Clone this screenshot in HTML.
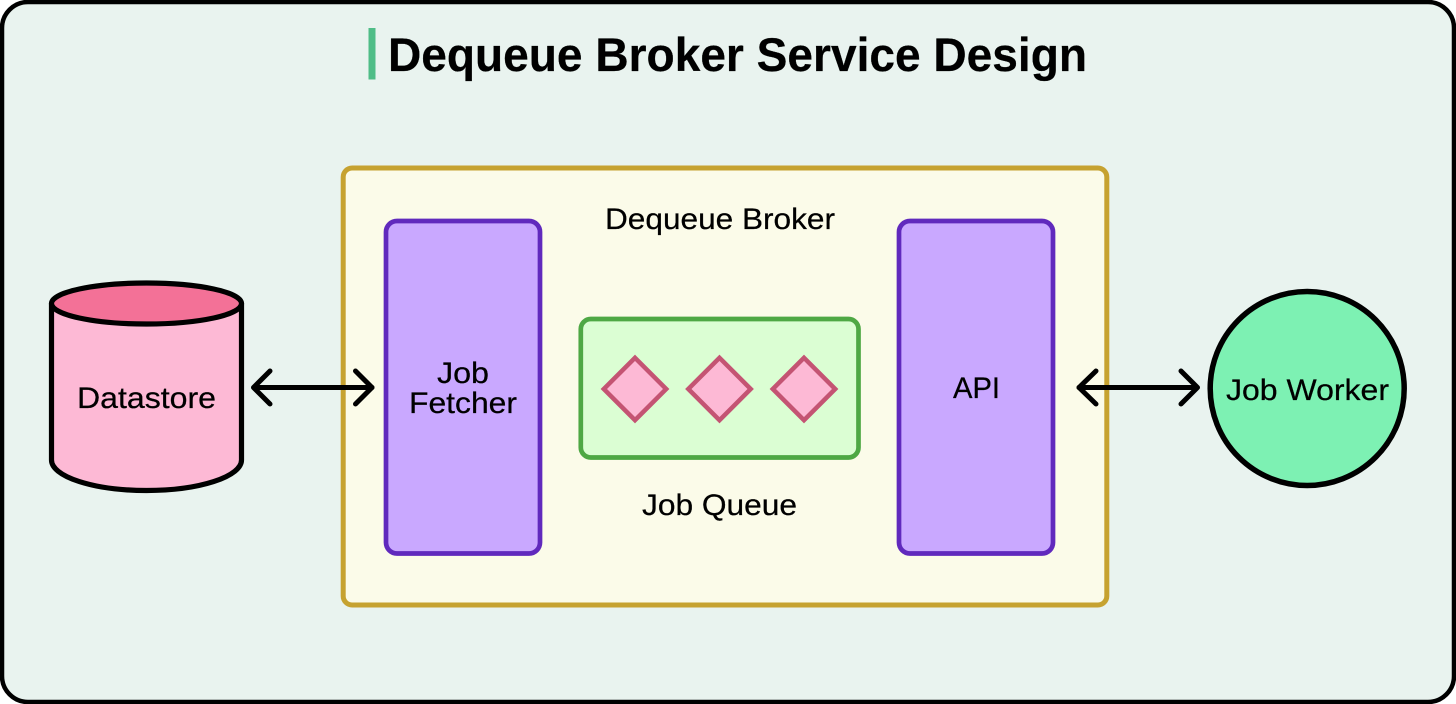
<!DOCTYPE html>
<html>
<head>
<meta charset="utf-8">
<style>
html,body{margin:0;padding:0;background:#fff;width:1456px;height:704px;overflow:hidden}
svg{display:block}
text{font-family:"Liberation Sans",sans-serif;fill:#000;font-size:30px;stroke:#000;stroke-width:.25px}
</style>
</head>
<body>
<svg width="1456" height="704" viewBox="0 0 1456 704" xmlns="http://www.w3.org/2000/svg">
<rect x="2" y="2" width="1452" height="700" rx="26" ry="26" fill="#e9f3ef" stroke="#000" stroke-width="4.5"/>
<rect x="368.5" y="28" width="7" height="51.500" fill="#4fbd87"/>
<text x="388" y="71" style="font-size:47px;font-weight:700" textLength="699" lengthAdjust="spacingAndGlyphs">Dequeue Broker Service Design</text>

<rect x="343.200" y="168" width="763.600" height="437" rx="9" fill="#fbfbe9" stroke="#c6a230" stroke-width="5"/>
<rect x="386" y="221" width="154" height="332.500" rx="11" fill="#c9a8ff" stroke="#6029bd" stroke-width="4.700"/>
<rect x="899" y="221" width="154" height="332.500" rx="11" fill="#c9a8ff" stroke="#6029bd" stroke-width="4.700"/>
<rect x="580.800" y="319" width="277.700" height="138.500" rx="10" fill="#dbfed3" stroke="#4ea844" stroke-width="4.700"/>

<g fill="#fdb9d5" stroke="#c45473" stroke-width="4.500" stroke-linejoin="miter">
<path d="M635 357.800L666.200 389L635 420.200L603.800 389Z"/>
<path d="M719.500 357.800L750.700 389L719.500 420.200L688.300 389Z"/>
<path d="M804 357.800L835.200 389L804 420.200L772.800 389Z"/>
</g>

<path d="M51.500 303.500V460A95 30.500 0 0 0 241.500 460V303.500Z" fill="#fdb9d5" stroke="#000" stroke-width="5.200" stroke-linejoin="round"/>
<ellipse cx="146.500" cy="303.500" rx="95" ry="20.500" fill="#f37197" stroke="#000" stroke-width="5.200"/>

<circle cx="1307.200" cy="388.500" r="97" fill="#7df1b3" stroke="#000" stroke-width="5.500"/>

<g fill="none" stroke="#000" stroke-width="5" stroke-linecap="round" stroke-linejoin="round">
<path d="M254 387.500H372"/>
<path d="M270 371L253.500 387.500L270 404"/>
<path d="M355.500 371L372 387.500L355.500 404"/>
<path d="M1079 387.500H1197"/>
<path d="M1096 371L1079 387.500L1096 404"/>
<path d="M1181 371L1197.500 387.500L1181 404"/>
</g>

<text x="605" y="229" textLength="230" lengthAdjust="spacingAndGlyphs">Dequeue Broker</text>
<text x="437" y="383" textLength="52" lengthAdjust="spacingAndGlyphs">Job</text>
<text x="409" y="413" textLength="108" lengthAdjust="spacingAndGlyphs">Fetcher</text>
<text x="953" y="398" textLength="47" lengthAdjust="spacingAndGlyphs">API</text>
<text x="642" y="515" textLength="155" lengthAdjust="spacingAndGlyphs">Job Queue</text>
<text x="77" y="408" textLength="139" lengthAdjust="spacingAndGlyphs">Datastore</text>
<text x="1226" y="400" textLength="163" lengthAdjust="spacingAndGlyphs">Job Worker</text>
</svg>
</body>
</html>
